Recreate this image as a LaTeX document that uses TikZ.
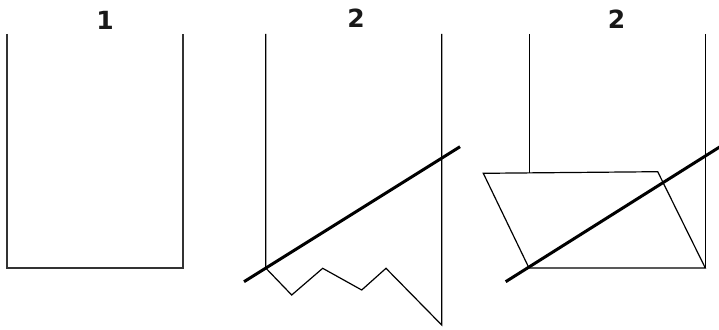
\documentclass[tikz,border=0pt]{standalone}
\usepackage{fontspec}
\newfontfamily\lblfam{DejaVu Sans}
\newcommand{\lblfontA}{\lblfam\bfseries\fontsize{25}{28}\selectfont}
\newcommand{\lblfontB}{\lblfam\bfseries\fontsize{25}{28}\selectfont}
\begin{document}
\begin{tikzpicture}[x=1pt,y=-1pt,
  thinline/.style={line width=1.2pt, black},
  boldwall/.style={line width=2pt, black!80},
  cutline/.style={line width=3pt, black},
  lbl/.style={text=black!90, inner sep=0pt}]
\useasboundingbox (0,0) rectangle (719,329);
% labels
\node[lbl] (l1) at (105,20) {\lblfontA 1};
\node[lbl] (l2) at (356,18) {\lblfontB 2};
\node[lbl] (l3) at (616.5,19.5) {\lblfontB 2};
% panel 1
\draw[boldwall] (7,34) -- (7,268) -- (183,268) -- (183,34);
% panel 2
\coordinate (a1) at (265.7,34);
\coordinate (a2) at (265.7,268);
\coordinate (b1) at (441.7,34);
\coordinate (b2) at (441.7,325);
\draw[thinline] (a1) -- (a2) -- (291.7,295) -- (322.7,268.3) -- (361.7,290) -- (386,268.3) -- (b2) -- (b1);
\coordinate (c1) at (244,281.7);
\coordinate (c2) at (460,146.7);
\draw[cutline] (c1) -- (c2);
% panel 3
\coordinate (d1) at (529.3,34);
\coordinate (d2) at (529.3,172.7);
\coordinate (e1) at (705.3,34);
\coordinate (e2) at (705.3,268);
\draw[thinline] (d1) -- (d2);
\draw[thinline] (e1) -- (e2);
\draw[thinline, line join=miter] (483.3,173.3) -- (657.7,171.7) -- (e2) -- (529,268) -- cycle;
\coordinate (f1) at (505.7,281.7);
\coordinate (f2) at (722,145.5);
\draw[cutline] (f1) -- (f2);
\end{tikzpicture}
\end{document}
